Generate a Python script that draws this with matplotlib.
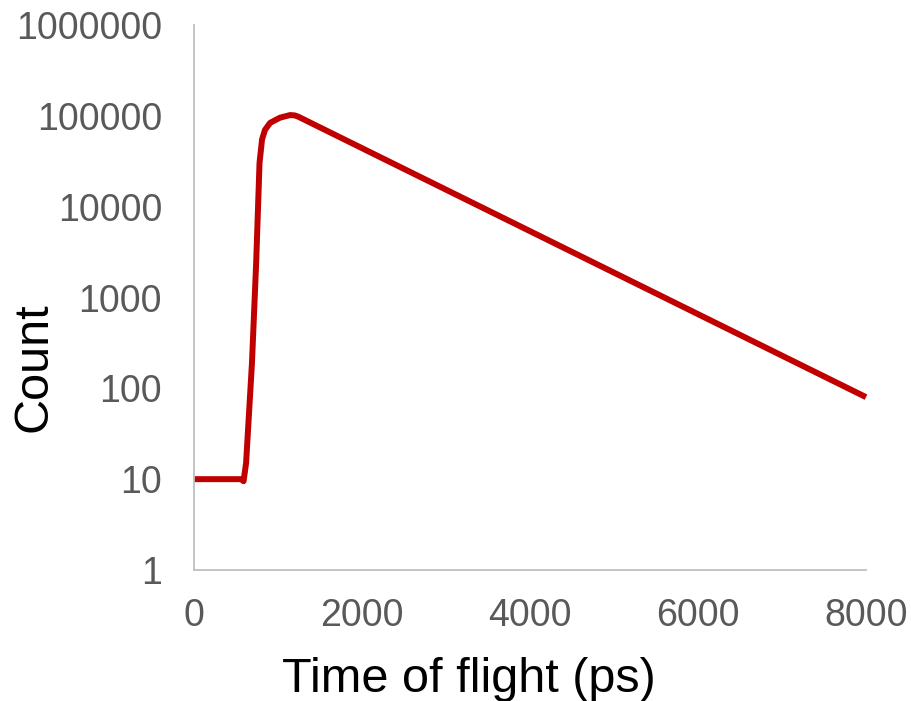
import matplotlib
matplotlib.use("Agg")
from matplotlib import pyplot as plt
from matplotlib.ticker import FixedLocator, FixedFormatter

# time-of-flight histogram
time_ps = [0, 520, 560, 590, 620, 690, 740, 780, 810, 845, 905, 960,
           1025, 1090, 1145, 1200, 1240, 8000]
counts = [10, 10, 10, 9.5, 15, 190, 2400, 30300, 55000, 70000, 83500, 89000,
          95500, 99000, 102000, 101000, 98000, 80]

x_ticks = [0, 2000, 4000, 6000, 8000]
y_ticks = [1, 10, 100, 1000, 10000, 100000, 1000000]
y_tick_labels = ['1', '10', '100', '1000', '10000', '100000', '1000000']

LINE_COLOR = '#C00000'
SPINE_COLOR = '#BFBFBF'
TICK_COLOR = '#595959'

plt.rcParams['font.family'] = ['Liberation Sans', 'DejaVu Sans']

fig = plt.figure(figsize=(9.11, 7.01), dpi=100)
ax = fig.add_axes([194/911, 131/701, 672/911, 545/701])

ax.plot(time_ps, counts, color=LINE_COLOR, lw=4.3,
        solid_joinstyle='round', solid_capstyle='butt', clip_on=False)

ax.set_yscale('log')
ax.set_xlim(0, 8000)
ax.set_ylim(1, 1e6)

ax.yaxis.set_major_locator(FixedLocator(y_ticks))
ax.yaxis.set_major_formatter(FixedFormatter(y_tick_labels))
ax.yaxis.set_minor_locator(FixedLocator([]))
ax.xaxis.set_major_locator(FixedLocator(x_ticks))

ax.tick_params(axis='both', length=0, labelsize=27, labelcolor=TICK_COLOR)
ax.tick_params(axis='y', pad=23)
ax.tick_params(axis='x', pad=20)

for side in ['top', 'right']:
    ax.spines[side].set_visible(False)
for side in ['left', 'bottom']:
    ax.spines[side].set_color(SPINE_COLOR)
    ax.spines[side].set_linewidth(1.3)

# axis titles sit off-centre in the original, place them by hand
fig.text(469/911, 9/701, 'Time of flight (ps)', fontsize=35,
         ha='center', va='baseline')
fig.text(34/911, (701-367)/701, 'Count', fontsize=35,
         ha='center', va='center', rotation=90)

plt.savefig('out.png', dpi=100)
